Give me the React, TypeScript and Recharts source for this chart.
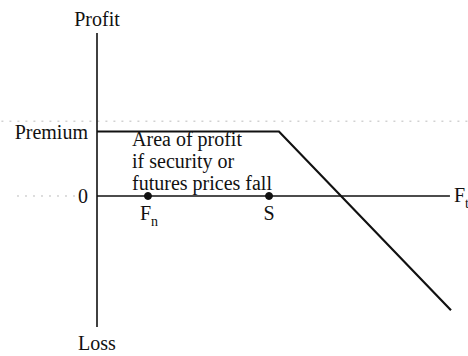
import React from 'react';
import { LineChart, Line, XAxis, YAxis, ReferenceLine, ReferenceDot } from 'recharts';

// futures price (arbitrary units) and profit (in units of the premium)
const prices = [0, 51.4, 100];
const profits = [1, 1, -1.77];
const yTicks = [0, 1];
const yTickLabels: Record<number, string> = { 0: '0', 1: 'Premium' };
const markers = [
  { name: 'F', sub: 'n', price: 14.4 },
  { name: 'S', sub: '', price: 48.6 },
];
const notePos = { price: 9.9, profit: 1 };
const noteLines = ['Area of profit', 'if security or', 'futures prices fall'];

const data = prices.map((p, i) => ({ price: p, profit: profits[i] }));

const FONT = '"Liberation Serif", "Times New Roman", serif';

const MarkerLabel = ({ viewBox, name, sub }: any) => {
  const cx = viewBox.x + viewBox.width / 2;
  const cy = viewBox.y + viewBox.height / 2;
  return (
    <text
      x={sub ? cx - 8 : cx}
      y={cy + 24}
      textAnchor={sub ? 'start' : 'middle'}
      fontFamily={FONT}
      fontSize={20}
      fill="#111"
    >
      {name}
      {sub && (
        <tspan fontSize={14} dy={6}>
          {sub}
        </tspan>
      )}
    </text>
  );
};

const NoteLabel = ({ viewBox }: any) => {
  const x = viewBox.x + viewBox.width / 2;
  const y = viewBox.y + viewBox.height / 2;
  return (
    <text x={x} y={y} fontFamily={FONT} fontSize={20} fill="#111">
      {noteLines.map((t, i) => (
        <tspan key={t} x={x} y={y + 15 + i * 21.7}>
          {t}
        </tspan>
      ))}
    </text>
  );
};

const AxisEndLabel = ({ viewBox }: any) => (
  <text x={viewBox.x + viewBox.width + 4} y={viewBox.y + 6} fontFamily={FONT} fontSize={20} fill="#111">
    F
    <tspan fontSize={14} dy={6}>
      t
    </tspan>
  </text>
);

const App: React.FC = () => {
  return (
    <div style={{ position: 'absolute', left: 0, top: 0, width: 468, height: 356, background: '#fff' }}>
      <LineChart width={468} height={356} data={data} margin={{ top: 33, right: 17, bottom: 29, left: 7 }}>
        <XAxis dataKey="price" type="number" domain={[0, 100]} hide />
        <YAxis
          type="number"
          domain={[-2.031, 2.527]}
          ticks={yTicks}
          width={90}
          tickLine={false}
          tickSize={0}
          tickMargin={9}
          tickFormatter={(v: number) => yTickLabels[v]}
          tick={{ fontFamily: FONT, fontSize: 20, fill: '#111' }}
          axisLine={{ stroke: '#111', strokeWidth: 1.6 }}
          allowDataOverflow
        />
        {/* faint dotted guide lines from the scan */}
        <ReferenceLine
          segment={[{ x: -27, y: 1.16 }, { x: 105, y: 1.16 }]}
          ifOverflow="visible"
          stroke="#bbb"
          strokeDasharray="2 6"
        />
        <ReferenceLine
          segment={[{ x: -22.6, y: 0 }, { x: -5.6, y: 0 }]}
          ifOverflow="visible"
          stroke="#bbb"
          strokeDasharray="2 6"
        />
        <ReferenceLine x={0} stroke="none" label={{ value: 'Profit', position: 'top', offset: 7, fontFamily: FONT, fontSize: 20, fill: '#111' }} />
        <ReferenceLine x={0} stroke="none" label={{ value: 'Loss', position: 'bottom', offset: 9, fontFamily: FONT, fontSize: 20, fill: '#111' }} />
        <ReferenceLine
          segment={[{ x: 0, y: 0 }, { x: 99.7, y: 0 }]}
          stroke="#111"
          strokeWidth={1.6}
          label={(props: any) => <AxisEndLabel {...props} />}
        />
        <ReferenceDot
          x={notePos.price}
          y={notePos.profit}
          r={0}
          stroke="none"
          fill="none"
          label={(props: any) => <NoteLabel {...props} />}
        />
        <Line
          type="linear"
          dataKey="profit"
          stroke="#111"
          strokeWidth={2.2}
          dot={false}
          isAnimationActive={false}
        />
        {markers.map((m) => (
          <ReferenceDot
            key={m.name}
            x={m.price}
            y={0}
            r={3.5}
            fill="#111"
            stroke="#111"
            label={(props: any) => <MarkerLabel {...props} name={m.name} sub={m.sub} />}
          />
        ))}
      </LineChart>
    </div>
  );
};

export default App;
